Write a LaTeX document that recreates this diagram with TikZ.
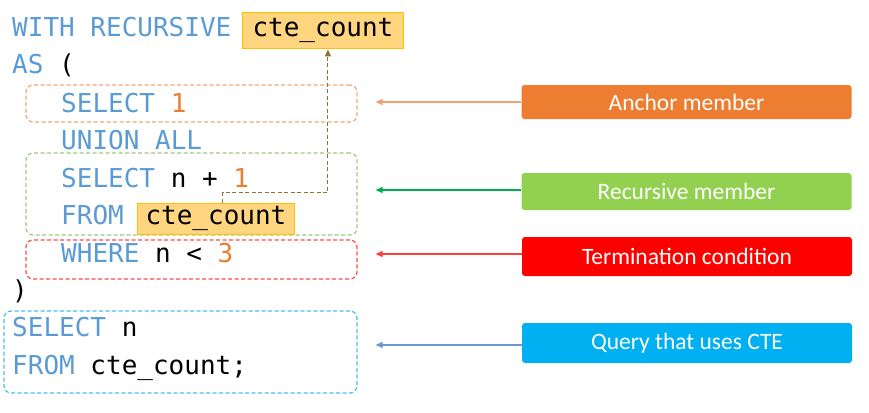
\documentclass[tikz,border=0pt]{standalone}
\usepackage{fontspec}
\setmainfont{Carlito}
\newfontfamily\codefont{DejaVu Sans Mono}
\usetikzlibrary{arrows.meta,calc}
\definecolor{kw}{HTML}{5B9BD5}
\definecolor{num}{HTML}{ED7D31}
\definecolor{hlfill}{HTML}{FFD580}
\definecolor{hldraw}{HTML}{FFC000}
\definecolor{cAnc}{HTML}{ED7D31}
\definecolor{cRec}{HTML}{92D050}
\definecolor{cTer}{HTML}{FF0000}
\definecolor{cQry}{HTML}{00B0F0}
\definecolor{dAnc}{HTML}{F4A474}
\definecolor{dRec}{HTML}{9CCB7C}
\definecolor{dTer}{HTML}{FF4A4A}
\definecolor{dQry}{HTML}{45BFEE}
\definecolor{aAnc}{HTML}{F4A070}
\definecolor{aRec}{HTML}{00B050}
\definecolor{aTer}{HTML}{FF4040}
\definecolor{aQry}{HTML}{6A98D2}
\definecolor{link}{HTML}{8C7332}
\newcommand{\kw}[1]{\textcolor{kw}{#1}}
\newcommand{\nm}[1]{\textcolor{num}{#1}}
\begin{document}
\begin{tikzpicture}[x=1pt,y=-1pt,
  code/.style={anchor=base west,inner sep=0pt,font=\codefont\fontsize{26}{30}\selectfont},
  hl/.style={code,fill=hlfill,draw=hldraw,line width=1pt},
  dbox/.style={draw=#1,dash pattern=on 4pt off 2.5pt,line width=1.2pt,rounded corners=7pt,inner sep=0pt},
  lbl/.style={fill=#1,rounded corners=3pt,text=white,font=\fontsize{23.5}{27}\selectfont,minimum width=330pt,inner sep=0pt},
  arr/.style={draw=#1,line width=1.1pt,-{Triangle[length=7pt,width=6pt]},shorten >=18pt},
  conn/.style={draw=link,dash pattern=on 4pt off 2.5pt,line width=1.1pt,-{Triangle[length=7pt,width=6pt]}}
]
\useasboundingbox (0,0) rectangle (869,412);
% dashed regions
\node[dbox=dAnc,minimum width=331pt,minimum height=37pt] (anc) at (191.5,103.5) {};
\node[dbox=dRec,minimum width=331pt,minimum height=82pt] (rec) at (191.5,194) {};
\node[dbox=dTer,minimum width=331pt,minimum height=39pt] (ter) at (191.5,259.5) {};
\node[dbox=dQry,minimum width=353pt,minimum height=82pt] (qry) at (180.5,352) {};
% code
\node[code] (l1) at (12,37) {\kw{WITH RECURSIVE}};
\node[hl,inner xsep=10pt,text height=24pt,text depth=12pt] (top) at (242,37) {cte\_count};
\node[code] (l2) at (12,74) {\kw{AS} (};
\node[code] (l3) at (61,112) {\kw{SELECT} \nm{1}};
\node[code] (l4) at (61,149) {\kw{UNION ALL}};
\node[code] (l5) at (61,187) {\kw{SELECT} n + \nm{1}};
\node[code] (l6) at (61,224) {\kw{FROM}};
\node[hl,inner xsep=8pt,text height=21pt,text depth=10pt] (inner) at (137,224) {cte\_count};
\node[code] (l7) at (61,262) {\kw{WHERE} n < \nm{3}};
\node[code] (l8) at (12,299) {)};
\node[code] (l9) at (12,336) {\kw{SELECT} n};
\node[code] (l10) at (12,374) {\kw{FROM} cte\_count;};
% labels
\node[lbl=cAnc,minimum height=34pt] (Lanc) at (686.5,102) {Anchor member};
\node[lbl=cRec,minimum height=37pt] (Lrec) at (686.5,191.5) {Recursive member};
\node[lbl=cTer,minimum height=39pt] (Lter) at (687,256.5) {Termination condition};
\node[lbl=cQry,minimum height=40pt] (Lqry) at (687,343) {Query that uses CTE};
% arrows
\draw[arr=aAnc] (Lanc.west) -- (Lanc.west -| anc.east);
\draw[arr=aRec] ([yshift=1.5pt]Lrec.west) -- ([yshift=1.5pt]Lrec.west -| rec.east);
\draw[arr=aTer] ([yshift=2.5pt]Lter.west) -- ([yshift=2.5pt]Lter.west -| ter.east);
\draw[arr=aQry] ([yshift=-2pt]Lqry.west) -- ([yshift=-2pt]Lqry.west -| qry.east);
% recursion link
\draw[conn] ([xshift=7pt]inner.north) -- ++(0,-10) -| ([xshift=5pt]top.south);
\end{tikzpicture}
\end{document}
